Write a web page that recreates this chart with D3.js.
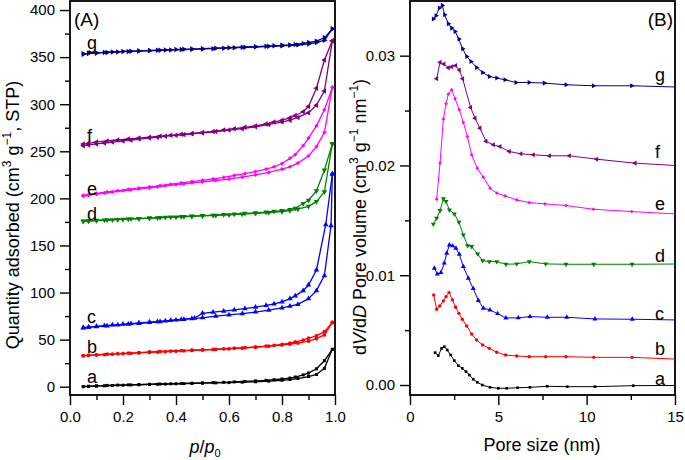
<!DOCTYPE html>
<html><head><meta charset="utf-8">
<script src="https://cdn.jsdelivr.net/npm/d3@7"></script>
<style>body{margin:0;background:#fff}text{font-family:"Liberation Sans",Arial,sans-serif;fill:#000}</style>
</head><body>
<svg id="c" width="685" height="460"></svg>
<script>
// ---------- Panel A: isotherms ----------
const seriesNames = ["a","b","c","d","e","f","g"];
const colors = ["#000000","#ff0000","#0000ff","#008000","#ff00ff","#800080","#00008c"];
const markerTypes = ["square","circle","triUp","triDown","diamond","triLeft","triRight"];

const pAds = [0.05,0.07,0.10,0.13,0.16,0.20,0.23,0.26,0.30,0.33,0.36,0.40,0.43,0.46,0.50,0.55,0.60,0.65,0.70,0.75,0.80,0.83,0.86,0.90,0.93,0.96,0.99];
const pDes = [0.99,0.96,0.93,0.90,0.88,0.85,0.83,0.80,0.77,0.74,0.70,0.66,0.62,0.58,0.54,0.50,0.46,0.42,0.38,0.34,0.30,0.26,0.22,0.18,0.14,0.10,0.07,0.05];
const pAdsC = [0.05,0.07,0.10,0.13,0.16,0.20,0.23,0.26,0.30,0.33,0.36,0.40,0.43,0.46,0.50,0.55,0.60,0.65,0.70,0.75,0.80,0.83,0.86,0.90,0.93,0.96,0.985,0.99];
const pDesC = [0.99,0.965,0.93,0.90,0.88,0.85,0.83,0.80,0.77,0.74,0.70,0.66,0.62,0.58,0.54,0.50,0.47,0.42,0.38,0.34,0.30,0.26,0.22,0.18,0.14,0.10,0.07,0.05];

const aAds = [0,0.3,0.7,1.0,1.3,1.6,1.9,2.1,2.4,2.6,2.8,3.1,3.3,3.5,3.8,4.1,4.4,4.8,5.2,5.9,6.8,7.6,8.7,10.8,13.0,19.5,39.7];
const aDes = [39.7,27.6,19.0,14.5,12.5,10.3,9.2,8.2,7.4,6.8,6.2,5.6,5.1,4.7,4.3,4.0,3.7,3.4,3.1,2.9,2.6,2.3,2.0,1.7,1.4,0.9,0.5,0.2];
const bAds = [32.8,33.2,33.7,34.2,34.6,35.1,35.5,35.9,36.4,36.8,37.2,37.7,38.1,38.5,39.0,39.6,40.3,41.0,41.9,43.0,44.3,45.2,46.3,48.5,51.0,55.0,68.3];
const bDes = [68.3,58.5,54.0,51.5,49.5,47.5,46.3,45.0,44.0,43.2,42.4,41.6,40.9,40.2,39.6,39.2,38.8,38.4,37.9,37.4,36.9,36.3,35.7,35.1,34.5,33.9,33.4,33.1];
const cAds = [62.5,63.2,64.0,64.8,65.5,66.3,67.0,67.7,68.5,69.2,69.9,70.8,71.5,72.2,73.2,75.0,76.3,77.7,79.3,81.3,83.8,85.5,87.5,93.5,102.0,118.0,171.0,226.0];
const cDes = [226.0,172.0,124.0,108.0,102.0,96.5,93.5,90.0,88.0,86.3,84.5,83.0,81.5,80.3,79.2,78.0,72.8,71.4,70.3,69.2,68.2,67.3,66.4,65.5,64.6,63.8,63.2,62.8];
const dAds = [175.5,176,176.5,177,177.3,177.8,178.2,178.6,179,179.4,179.8,180.2,180.6,181,181.4,182,182.6,183.3,184,185,186,187,188.6,191.5,196.5,207,258];
const dDes = [258,230,208,198,194.5,189.5,188,187,186.3,185.5,184.7,184,183.3,182.7,182.1,181.6,181.1,180.6,180.1,179.6,179.1,178.6,178.1,177.6,177.1,176.6,176.1,175.8];
const eAds = [202.5,203.3,204.5,205.6,206.7,208,209,210,211.3,212.3,213.3,214.5,215.5,216.5,217.5,219,220.5,222.5,225,227.5,231,233.5,237.5,245,255,270,318];
const eDes = [318,294,277,264,256,246.5,242.5,237,233.5,231,228.5,226.3,224.3,222.3,220.6,219.2,217.9,216.5,215,213.6,212.2,210.9,209.6,208.2,206.8,205.3,204,203.2];
const fAds = [256,256.8,257.8,258.8,259.8,261,262,263,264,265,266,267,267.8,268.5,269.5,271,272.5,274,276,278.5,281,283,286,291,299,314,367.5];
const fDes = [367.5,347,317,297.5,292,288,285.5,283,281,279,277,275.5,274,272.5,271,270,269,268,267,266,265,264,263,262,261,260,258.5,257.7];
const gAds = [353,354,354.5,355,355.5,356,356.3,356.6,357,357.3,357.6,358,358.3,358.6,359,359.5,360,360.5,361,361.5,362,362.5,363,364,365.5,368,380];
const gDes = [380,370.5,367,365.5,364.5,363.5,363,362.5,362,361.5,361,360.5,360,359.5,359,358.7,358.3,358,357.6,357.2,356.8,356.4,356,355.5,355,354.5,354,353.5];

const isoAds = [[pAds,aAds],[pAds,bAds],[pAdsC,cAds],[pAds,dAds],[pAds,eAds],[pAds,fAds],[pAds,gAds]];
const isoDes = [[pDes,aDes],[pDes,bDes],[pDesC,cDes],[pDes,dDes],[pDes,eDes],[pDes,fDes],[pDes,gDes]];

const xTicksA = [0,0.2,0.4,0.6,0.8,1.0];
const xMinorA = [0.1,0.3,0.5,0.7,0.9];
const yTicksA = [0,50,100,150,200,250,300,350,400];
const yMinorA = [25,75,125,175,225,275,325,375];

// ---------- Panel B: pore size distributions ----------
const dA = [1.42,1.60,1.79,1.94,2.11,2.30,2.51,2.74,2.96,3.17,3.36,3.58,3.81,4.09,4.53,5.0,5.47,6.09,6.79,7.77,8.9,10.47,12.64,16];
const vA = [0.00295,0.00267,0.00334,0.00349,0.00319,0.00273,0.00222,0.00176,0.00152,0.00122,0.00091,0.00052,0.00025,0,-0.00021,-0.0003,-0.0003,-0.00025,-0.00021,-0.00012,-0.00015,-0.00015,-0.00006,-0.00004];
const dB = [1.34,1.51,1.68,1.89,2.04,2.21,2.40,2.58,2.77,2.96,3.21,3.49,3.77,4.11,4.49,4.91,5.41,6.04,6.75,7.68,8.83,10.4,12.57,16];
const vB = [0.0082,0.0069,0.0072,0.00766,0.00805,0.00842,0.00775,0.00708,0.00653,0.00599,0.00538,0.00465,0.0041,0.00365,0.00334,0.00298,0.00273,0.00264,0.00258,0.00258,0.00258,0.00252,0.00252,0.0023];
const dC = [1.38,1.55,1.75,1.94,2.08,2.23,2.41,2.60,2.79,3.02,3.30,3.58,3.87,4.15,4.53,4.96,5.43,6.13,6.79,7.77,8.87,10.47,12.58,16];
const vC = [0.01064,0.0101,0.01024,0.0111,0.012,0.01276,0.01267,0.01246,0.01191,0.01078,0.00973,0.00878,0.0077,0.00699,0.00684,0.0065,0.00611,0.00612,0.00623,0.00617,0.00617,0.00602,0.00599,0.0059];
const dD = [1.32,1.51,1.70,1.89,2.04,2.23,2.51,2.77,3.02,3.26,3.49,3.83,4.11,4.49,4.91,5.43,6.04,6.75,7.68,8.83,10.4,12.57,16];
const vD = [0.01465,0.0152,0.01589,0.01696,0.01671,0.01595,0.01559,0.01483,0.01367,0.0127,0.01261,0.01194,0.01133,0.01124,0.01124,0.011,0.01103,0.01124,0.01103,0.011,0.011,0.011,0.01103];
const dE = [1.51,1.70,1.89,2.04,2.17,2.36,2.55,2.79,3.02,3.25,3.49,3.81,4.15,4.53,4.91,5.38,6.04,6.75,7.64,8.83,10.38,12.55,16];
const vE = [0.01693,0.02021,0.02422,0.02562,0.0265,0.02689,0.02607,0.02507,0.02391,0.02263,0.02097,0.01975,0.01893,0.01793,0.01748,0.01723,0.01686,0.01662,0.0165,0.01635,0.01601,0.0158,0.0155];
const dF = [1.51,1.70,1.92,2.17,2.36,2.58,2.79,2.98,3.43,3.68,3.96,4.30,4.72,5.09,5.62,6.28,6.98,7.89,9.02,10.57,12.74,16];
const vF = [0.0279,0.0294,0.02925,0.0289,0.029,0.0291,0.0287,0.0279,0.02528,0.02431,0.0234,0.02221,0.02188,0.02172,0.02127,0.02106,0.02097,0.02088,0.02088,0.02057,0.02021,0.0199];
const dG = [1.32,1.47,1.66,1.83,1.96,2.17,2.36,2.55,2.77,2.98,3.21,3.45,3.77,4.11,4.49,4.91,5.38,6.0,6.74,7.6,8.83,10.38,12.55,16];
const vG = [0.03334,0.03364,0.03434,0.03458,0.03373,0.03291,0.03251,0.03221,0.03151,0.03063,0.02993,0.02947,0.02893,0.02847,0.0281,0.02796,0.0278,0.02756,0.02756,0.0275,0.02735,0.02726,0.02726,0.0271];
const psd = [[dA,vA],[dB,vB],[dC,vC],[dD,vD],[dE,vE],[dF,vF],[dG,vG]];

const xTicksB = [0,5,10,15];
const xMinorB = [2.5,7.5,12.5];
const yTicksB = [0,0.01,0.02,0.03];
const yMinorB = [0.005,0.015,0.025];

// ---------- drawing ----------
const svg = d3.select("#c");
const xL = d3.scaleLinear().domain([0,1]).range([70,335]);
const yL = d3.scaleLinear().domain([-8.8,409.6]).range([395,1]);
const xR = d3.scaleLinear().domain([0,15]).range([410,675]);
const yR = d3.scaleLinear().domain([-0.00091,0.03498]).range([395,1]);

const defs = svg.append("defs");
defs.append("clipPath").attr("id","clipA").append("rect").attr("x",70).attr("y",1).attr("width",265).attr("height",394);
defs.append("clipPath").attr("id","clipB").append("rect").attr("x",410).attr("y",1).attr("width",265).attr("height",394);

function symPath(type, size){
  const t = {square:d3.symbolSquare,circle:d3.symbolCircle,diamond:d3.symbolSquare}[type] || d3.symbolTriangle;
  return d3.symbol().type(t).size(size)();
}
function symRot(type){
  return {triDown:180,triLeft:-90,triRight:90,diamond:45}[type] || 0;
}
const sizeA = {square:9,circle:11,diamond:9,triUp:13,triDown:13,triLeft:13,triRight:13};
const sizeB = {square:7,circle:9,diamond:7,triUp:11,triDown:11,triLeft:11,triRight:11};

function axes(x, y, xt, xm, yt, ym, xf, yf){
  const g = svg.append("g");
  g.append("g").attr("transform","translate(0,395)")
    .call(d3.axisBottom(x).tickValues(xt).tickSize(10).tickPadding(6).tickSizeOuter(0).tickFormat(xf));
  g.append("g").attr("transform","translate(0,395)")
    .call(d3.axisBottom(x).tickValues(xm).tickSize(5).tickSizeOuter(0).tickFormat(""));
  g.append("g").attr("transform",`translate(${x.range()[0]},0)`)
    .call(d3.axisLeft(y).tickValues(yt).tickSize(10).tickPadding(5).tickSizeOuter(0).tickFormat(yf));
  g.append("g").attr("transform",`translate(${x.range()[0]},0)`)
    .call(d3.axisLeft(y).tickValues(ym).tickSize(5).tickSizeOuter(0).tickFormat(""));
  g.selectAll(".domain").remove();
  g.selectAll(".tick line").attr("stroke","#000").attr("stroke-width",1.4);
  g.selectAll(".tick text").attr("font-size",15).attr("fill","#000")
    .attr("font-family",'"Liberation Sans",Arial,sans-serif');
  g.append("rect").attr("x",x.range()[0]).attr("y",y.range()[1])
    .attr("width",x.range()[1]-x.range()[0]).attr("height",y.range()[0]-y.range()[1])
    .attr("fill","none").attr("stroke","#000").attr("stroke-width",1.8);
}

axes(xL,yL,xTicksA,xMinorA,yTicksA,yMinorA,d3.format(".1f"),d3.format("d"));
axes(xR,yR,xTicksB,xMinorB,yTicksB,yMinorB,d3.format("d"),d3.format(".2f"));

// Panel A data
const gA = svg.append("g").attr("clip-path","url(#clipA)");
const lineA = d3.line().x(d=>xL(d[0])).y(d=>yL(d[1]));
seriesNames.forEach((nm,i)=>{
  [isoAds[i], isoDes[i]].forEach(([px,vy])=>{
    const pts = px.map((p,k)=>[p,vy[k]]);
    gA.append("path").datum(pts).attr("d",lineA).attr("fill","none")
      .attr("stroke",colors[i]).attr("stroke-width",1.3);
    gA.selectAll(null).data(pts).enter().append("path")
      .attr("d",symPath(markerTypes[i],sizeA[markerTypes[i]]))
      .attr("transform",d=>`translate(${xL(d[0])},${yL(d[1])}) rotate(${symRot(markerTypes[i])})`)
      .attr("fill",colors[i]);
  });
});

// Panel B data
const gB = svg.append("g").attr("clip-path","url(#clipB)");
const lineB = d3.line().x(d=>xR(d[0])).y(d=>yR(d[1]));
seriesNames.forEach((nm,i)=>{
  const [dx,vy] = psd[i];
  const pts = dx.map((d,k)=>[d,vy[k]]);
  gB.append("path").datum(pts).attr("d",lineB).attr("fill","none")
    .attr("stroke",colors[i]).attr("stroke-width",1);
  gB.selectAll(null).data(pts).enter().append("path")
    .attr("d",symPath(markerTypes[i],sizeB[markerTypes[i]]))
    .attr("transform",d=>`translate(${xR(d[0])},${yR(d[1])}) rotate(${symRot(markerTypes[i])})`)
    .attr("fill",colors[i]);
});

// Series letters
const letterBaseA = [383,353,323,220,195,142,49];
const letterBaseB = [385,355,320,262,210,158,81];
seriesNames.forEach((nm,i)=>{
  svg.append("text").attr("x",87).attr("y",letterBaseA[i]).attr("font-size",18).text(nm);
  svg.append("text").attr("x",655).attr("y",letterBaseB[i]).attr("font-size",18).text(nm);
});

// Panel labels
svg.append("text").attr("x",74).attr("y",26).attr("font-size",19).text("(A)");
svg.append("text").attr("x",673).attr("y",26).attr("font-size",19).attr("text-anchor","end").text("(B)");

// Axis titles
const tA = svg.append("text").attr("font-size",18).attr("text-anchor","middle")
  .attr("transform","translate(19,215) rotate(-90)");
tA.append("tspan").text("Quantity adsorbed (cm");
tA.append("tspan").attr("font-size",12).attr("dy",-8).text("3");
tA.append("tspan").attr("dy",8).text(" g");
tA.append("tspan").attr("font-size",12).attr("dy",-8).text("−1");
tA.append("tspan").attr("dy",8).text(", STP)");

const tB = svg.append("text").attr("font-size",18).attr("text-anchor","middle")
  .attr("transform","translate(366,217) rotate(-90)");
tB.append("tspan").text("d");
tB.append("tspan").attr("font-style","italic").text("V");
tB.append("tspan").text("/d");
tB.append("tspan").attr("font-style","italic").text("D");
tB.append("tspan").text(" Pore volume (cm");
tB.append("tspan").attr("font-size",12).attr("dy",-8).text("3");
tB.append("tspan").attr("dy",8).text(" g");
tB.append("tspan").attr("font-size",12).attr("dy",-8).text("−1");
tB.append("tspan").attr("dy",8).text(" nm");
tB.append("tspan").attr("font-size",12).attr("dy",-8).text("−1");
tB.append("tspan").attr("dy",8).text(")");

const xA = svg.append("text").attr("font-size",18).attr("text-anchor","middle")
  .attr("x",205).attr("y",453);
xA.append("tspan").attr("font-style","italic").text("p");
xA.append("tspan").text("/");
xA.append("tspan").attr("font-style","italic").text("p");
xA.append("tspan").attr("font-size",11).attr("dy",4).text("0");

svg.append("text").attr("font-size",18).attr("text-anchor","middle")
  .attr("x",542).attr("y",451).text("Pore size (nm)");
</script>
</body></html>
